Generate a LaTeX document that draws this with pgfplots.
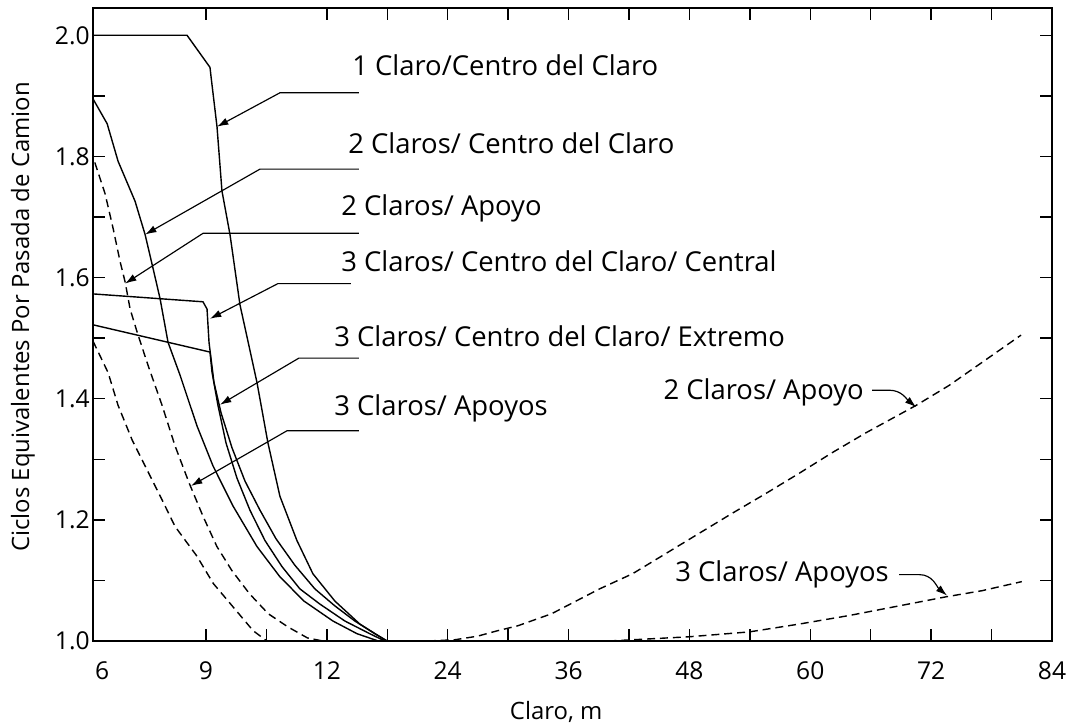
\documentclass[border=0pt]{standalone}
\usepackage{fontspec}
\setmainfont{Open Sans}
\usepackage{pgfplots}
\pgfplotsset{compat=1.18}
\usetikzlibrary{arrows.meta}
\newcommand{\annfont}{\fontsize{11.7}{14}\selectfont}
\newcommand{\tickfont}{\fontsize{10.5}{12}\selectfont}
\newcommand{\labfont}{\fontsize{10.2}{12}\selectfont}
\tikzset{lead/.style={black, line width=0.5pt, -{Latex[length=0.17cm,width=0.11cm]}}}
\begin{document}
\begin{tikzpicture}
\begin{axis}[
  scale only axis,
  width=14.385cm, height=9.495cm,
  xmin=0.13, xmax=16, ymin=1.0, ymax=2.045,
  clip=false,
  axis line style={line width=1pt},
  tick align=inside,
  major tick length=0.18cm,
  every tick/.style={black, line width=0.6pt},
  xtick={2,4,5,6,7,8,9,10,11,12,13,14,15},
  xticklabels={9,12,,24,,36,,48,,60,,72,},
  extra x ticks={0.28,16},
  extra x tick labels={6,84},
  extra x tick style={major tick length=0pt},
  ytick={1.0,1.1,1.2,1.3,1.4,1.5,1.6,1.7,1.8,1.9,2.0},
  yticklabels={1.0,,1.2,,1.4,,1.6,,1.8,,2.0},
  xticklabel style={font=\tickfont, yshift=-5.3pt},
  yticklabel style={font=\tickfont, xshift=2.1pt},
  xlabel={Claro, m},
  ylabel={Ciclos Equivalentes Por Pasada de Camion},
  xlabel style={font=\labfont, at={(rel axis cs:0.483,-0.112)}, anchor=center},
  ylabel style={font=\labfont, at={(rel axis cs:-0.073,0.512)}, anchor=center},
]
% 1 Claro / Centro del Claro
\addplot[black, line width=0.6pt, mark=none] coordinates {
(0.13,2.0) (1.686,2.0) (2.066,1.947) (2.083,1.932) (2.182,1.849) (2.264,1.743)
(2.397,1.671) (2.562,1.555) (2.694,1.495) (2.843,1.427) (3.025,1.327) (3.223,1.239)
(3.504,1.166) (3.769,1.111) (4.132,1.066) (4.545,1.028) (4.992,1.0)};
% 2 Claros / Centro del Claro
\addplot[black, line width=0.6pt, mark=none] coordinates {
(0.13,1.895) (0.364,1.854) (0.545,1.792) (0.826,1.726) (0.992,1.671) (1.124,1.615)
(1.24,1.565) (1.372,1.493) (1.570,1.439) (1.851,1.355) (2.116,1.289) (2.446,1.223)
(2.843,1.156) (3.223,1.106) (3.62,1.066) (4.1,1.033) (4.5,1.012) (4.85,1.0)};
% 3 Claros / Centro del Claro / Central
\addplot[black, line width=0.6pt, mark=none] coordinates {
(0.13,1.573) (1.950,1.560) (2.017,1.548) (2.050,1.493) (2.132,1.427) (2.248,1.377)
(2.430,1.319) (2.645,1.264) (2.893,1.216) (3.157,1.169) (3.471,1.125) (3.802,1.086)
(4.132,1.058) (4.463,1.033) (4.793,1.012) (5.0,1.0)};
% 3 Claros / Centro del Claro / Extremo
\addplot[black, line width=0.6pt, mark=none] coordinates {
(0.13,1.522) (2.066,1.477) (2.099,1.444) (2.198,1.389) (2.331,1.327) (2.512,1.269)
(2.727,1.216) (2.975,1.166) (3.256,1.123) (3.554,1.086) (3.884,1.061) (4.298,1.033)
(4.711,1.012) (4.959,1.0)};
% 2 Claros / Apoyo (short spans)
\addplot[black, line width=0.6pt, mark=none, dash pattern=on 3.4pt off 2.1pt] coordinates {
(0.16,1.79) (0.331,1.738) (0.463,1.681) (0.579,1.626) (0.661,1.593) (0.744,1.548)
(0.86,1.51) (1.041,1.455) (1.273,1.389) (1.488,1.322) (1.72,1.261) (1.95,1.206)
(2.18,1.156) (2.43,1.116) (2.72,1.078) (3.03,1.045) (3.36,1.023) (3.68,1.005) (3.934,1.0)};
% 3 Claros / Apoyos (short spans)
\addplot[black, line width=0.6pt, mark=none, dash pattern=on 3.4pt off 2.1pt] coordinates {
(0.13,1.495) (0.380,1.443) (0.545,1.389) (0.777,1.332) (0.992,1.289) (1.273,1.233)
(1.488,1.189) (1.85,1.140) (2.12,1.095) (2.45,1.056) (2.78,1.017) (3.008,1.0)};
% 2 Claros / Apoyo (long spans)
\addplot[black, line width=0.6pt, mark=none, dash pattern=on 3.4pt off 2.1pt] coordinates {
(5.67,1.0) (6.116,1.002) (6.496,1.008) (6.826,1.017) (7.157,1.025) (7.719,1.045)
(8.512,1.086) (9.058,1.111) (9.620,1.145) (10.165,1.178) (10.711,1.211) (11.273,1.244)
(11.818,1.277) (12.364,1.311) (12.926,1.344) (13.752,1.389) (14.298,1.422)
(14.843,1.460) (15.488,1.505)};
% 3 Claros / Apoyos (long spans)
\addplot[black, line width=0.6pt, mark=none, dash pattern=on 3.4pt off 2.1pt] coordinates {
(8.66,1.0) (9.058,1.002) (10.0,1.007) (10.99,1.015) (11.82,1.028) (12.64,1.042)
(13.47,1.058) (14.25,1.073) (14.84,1.083) (15.50,1.098)};

% extra bottom tick at 10.5 m
\draw[black, line width=0.6pt] (axis cs:3,1.0) -- (axis cs:3,1.0198);

% labels and leaders
\node[anchor=base west, inner sep=0, font=\annfont] at (axis cs:4.413,1.933) {1 Claro/Centro del Claro};
\draw[lead] (axis cs:4.529,1.905) -- (axis cs:3.223,1.905) -- (axis cs:2.182,1.849);
\node[anchor=base west, inner sep=0, font=\annfont] at (axis cs:4.347,1.805) {2 Claros/ Centro del Claro};
\draw[lead] (axis cs:4.529,1.779) -- (axis cs:2.893,1.779) -- (axis cs:0.992,1.671);
\node[anchor=base west, inner sep=0, font=\annfont] at (axis cs:4.231,1.703) {2 Claros/ Apoyo};
\draw[lead] (axis cs:4.529,1.673) -- (axis cs:1.950,1.673) -- (axis cs:0.661,1.590);
\node[anchor=base west, inner sep=0, font=\annfont] at (axis cs:4.231,1.610) {3 Claros/ Centro del Claro/ Central};
\draw[lead] (axis cs:4.397,1.590) -- (axis cs:3.190,1.590) -- (axis cs:2.066,1.532);
\node[anchor=base west, inner sep=0, font=\annfont] at (axis cs:4.116,1.486) {3 Claros/ Centro del Claro/ Extremo};
\draw[lead] (axis cs:4.529,1.467) -- (axis cs:3.537,1.467) -- (axis cs:2.231,1.390);
\node[anchor=base west, inner sep=0, font=\annfont] at (axis cs:4.116,1.373) {3 Claros/ Apoyos};
\draw[lead] (axis cs:4.529,1.347) -- (axis cs:3.339,1.347) -- (axis cs:1.752,1.256);

\node[anchor=base east, inner sep=0, font=\annfont] at (axis cs:12.893,1.3995) {2 Claros/ Apoyo};
\draw[lead] (axis cs:13.025,1.414) -- (axis cs:13.306,1.414) to[out=0,in=140] (axis cs:13.752,1.386);
\node[anchor=base east, inner sep=0, font=\annfont] at (axis cs:13.306,1.099) {3 Claros/ Apoyos};
\draw[lead] (axis cs:13.471,1.1096) -- (axis cs:13.802,1.1096) to[out=0,in=140] (axis cs:14.264,1.075);

\coordinate (bbll) at (rel axis cs:-0.09698,-0.13586);
\coordinate (bbur) at (rel axis cs:1.0219,1.01264);
\end{axis}
\pgfresetboundingbox
\path[use as bounding box] (bbll) rectangle (bbur);
\end{tikzpicture}
\end{document}
